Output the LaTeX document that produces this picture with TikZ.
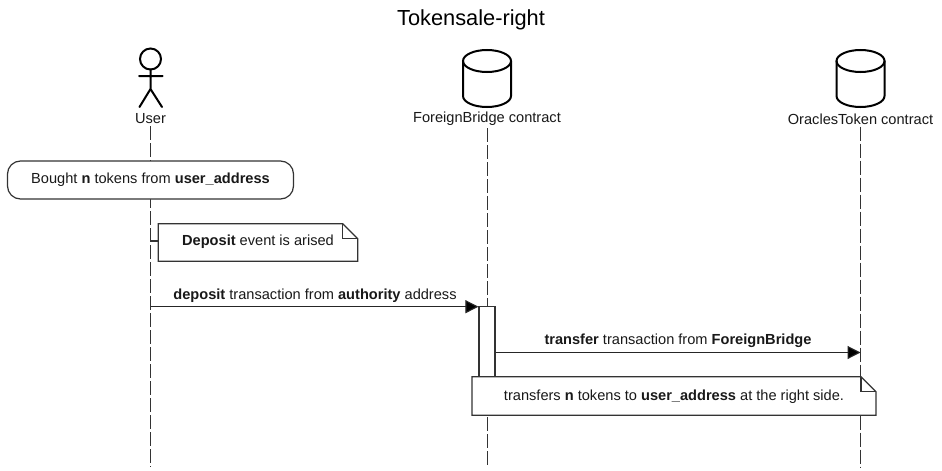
\documentclass[tikz,border=0pt]{standalone}
\usepackage{fontspec}
\setmainfont{Liberation Sans}
\usetikzlibrary{arrows.meta,calc}
\tikzset{
  x=1pt,y=-1pt,
  thinline/.style={draw=black!80,line width=1.2pt},
  figure/.style={draw=black,line width=2pt,line cap=round},
  lifeline/.style={draw=black!80,line width=1pt,dash pattern=on 14pt off 3pt},
  msg/.style={draw=black!85,line width=1.1pt,-{Triangle[length=13pt,width=13pt,fill=black]}},
  lbl/.style={inner sep=0pt,font=\fontsize{14.6}{17}\selectfont,text=black!90},
  sheet/.style={fill=white,draw=none,inner sep=0pt},
  titletext/.style={inner sep=0pt,font=\fontsize{21.8}{26}\selectfont,text=black},
}
\newcommand{\cyl}[2]{%
  \draw[figure,fill=white] (#1-24,#2) -- (#1-24,#2+35) arc[start angle=180,end angle=0,x radius=24,y radius=11] -- (#1+24,#2) ;
  \draw[figure] (#1,#2) ellipse[x radius=24,y radius=11];
}
\newcommand{\notebody}[2]{%
  \draw[thinline] (#1.north west) -- ($(#1.north east)+(-#2,0)$) -- ($(#1.north east)+(0,#2)$) -- (#1.south east) -- (#1.south west) -- cycle;
  \draw[thinline] ($(#1.north east)+(-#2,0)$) -- ($(#1.north east)+(-#2,#2)$) -- ($(#1.north east)+(0,#2)$);
}
\begin{document}
\begin{tikzpicture}
\useasboundingbox (0,0) rectangle (942,471);
\fill[white] (0,0) rectangle (942,471);
\node[titletext] (title) at (471,19.5) {Tokensale-right};

\node[lbl] (user) at (150.5,119) {User};
\node[lbl] (bridge) at (487,119) {ForeignBridge contract};
\node[lbl] (token) at (860.5,119) {OraclesToken contract};

\coordinate (userEnd) at (150.5,467);
\coordinate (bridgeEnd) at (487,467);
\coordinate (tokenEnd) at (860.5,467);
\draw[lifeline] (user.south -| userEnd) ++(0,2) -- (userEnd);
\draw[lifeline] (bridge.south -| bridgeEnd) ++(0,2) -- (bridgeEnd);
\draw[lifeline] (token.south -| tokenEnd) ++(0,2) -- (tokenEnd);

% actor
\draw[figure] (150.5,59) circle[radius=10.5];
\draw[figure] (150.5,69.5) -- (150.5,89) (139,76) -- (162.5,76) (139.5,107) -- (150.5,89) -- (162,107);

\cyl{487}{61}
\cyl{860.5}{61}

% bought
\node[lbl,draw=black!80,line width=1.2pt,fill=white,rounded corners=13pt,minimum width=286pt,minimum height=38pt] (bought) at (150.5,180) {\raisebox{-1pt}{Bought \textbf{n} tokens from \textbf{user\_address}}};

% note 1
\node[sheet,minimum width=199pt,minimum height=37pt] (noteA) at (258,242.5) {};
\notebody{noteA}{15}
\node[lbl] (noteAtext) at (258,242) {\textbf{Deposit} event is arised};
\coordinate (userA) at (150.5,241);
\draw[thinline] (userA) -- (userA -| noteA.west);

% activation
\node[draw=black!80,line width=1.2pt,fill=white,minimum width=16pt,minimum height=70.5pt,inner sep=0pt] (act) at (487,342) {};

% messages
\coordinate (userB) at (150.5,306.7);
\draw[msg] (userB) -- (userB -| act.west);
\node[lbl] (depositlabel) at (315,296) {\textbf{deposit} transaction from \textbf{authority} address};
\coordinate (tokenB) at (860.5,352.5);
\draw[msg] (tokenB -| act.east) -- (tokenB);
\node[lbl] (transferlabel) at (678,341) {\textbf{transfer} transaction from \textbf{ForeignBridge}};

% note 2
\node[sheet,minimum width=403.5pt,minimum height=38pt] (noteB) at (674,396) {};
\notebody{noteB}{15}
\node[lbl] (noteBtext) at (674,396.5) {transfers \textbf{n} tokens to \textbf{user\_address} at the right side.};
\end{tikzpicture}
\end{document}
